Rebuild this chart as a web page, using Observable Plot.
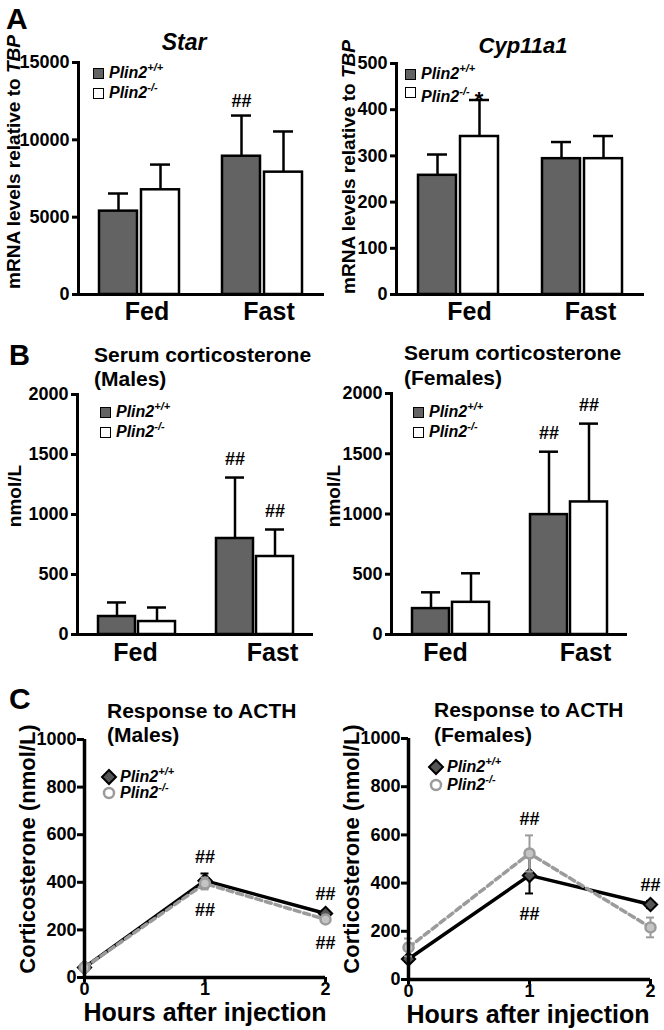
<!DOCTYPE html>
<html><head><meta charset="utf-8">
<script src="https://cdn.jsdelivr.net/npm/d3@7"></script>
<script src="https://cdn.jsdelivr.net/npm/@observablehq/plot@0.6"></script>
<style>
body{margin:0;background:#fff;}
#fig{position:relative;width:664px;height:1030px;overflow:hidden;font-family:"Liberation Sans",Arial,Helvetica,sans-serif;color:#000;background:#fff;}
.abs{position:absolute;white-space:nowrap;line-height:1;font-weight:bold;}
.wrap{position:absolute;}
.wrap svg{overflow:visible;background:transparent;}
.sq{position:absolute;width:11px;height:11px;border:1.5px solid #000;box-sizing:border-box;}
.sup{font-size:11px;position:relative;top:-7px;}
</style>
</head><body><div id="fig"></div>
<script>
// ---------- DATA ----------
const conditions = ["Fed", "Fast"];
const genotypes = ["Plin2+/+", "Plin2-/-"];

const starWT = [5390, 8940], starWTsd = [1140, 2630];
const starKO = [6770, 7910], starKOsd = [1630, 2630];
const cypWT = [258, 294], cypWTsd = [45, 36];
const cypKO = [342, 294], cypKOsd = [79, 49];
const malesWT = [150, 800], malesWTsd = [117, 508];
const malesKO = [108, 650], malesKOsd = [117, 225];
const femalesWT = [215, 995], femalesWTsd = [135, 522];
const femalesKO = [267, 1100], femalesKOsd = [241, 650];

const hours = [0, 1, 2];
const acthMalesWT = [42, 407, 269], acthMalesWTsd = [8, 30, 12];
const acthMalesKO = [42, 395, 244], acthMalesKOsd = [8, 25, 12];
const acthFemalesWT = [85, 432, 311], acthFemalesWTsd = [12, 75, 15];
const acthFemalesKO = [133, 523, 216], acthFemalesKOsd = [37, 75, 41];

const starTicks = [0, 5000, 10000, 15000];
const cypTicks = [0, 100, 200, 300, 400, 500];
const serumTicks = [0, 500, 1000, 1500, 2000];
const acthTicks = [0, 200, 400, 600, 800, 1000];
const hourTicks = [0, 1, 2];

const starHash = [["Fast", "Plin2+/+"]];
const cypHash = [];
const malesHash = [["Fast", "Plin2+/+"], ["Fast", "Plin2-/-"]];
const femalesHash = [["Fast", "Plin2+/+"], ["Fast", "Plin2-/-"]];
const acthMalesHash = [
  {hour: 1, series: "wt", side: "above"}, {hour: 1, series: "ko", side: "below"},
  {hour: 2, series: "wt", side: "above"}, {hour: 2, series: "ko", side: "below"}
];
const acthFemalesHash = [
  {hour: 1, series: "ko", side: "above"}, {hour: 1, series: "wt", side: "below"},
  {hour: 2, series: "wt", side: "above"}
];

// ---------- HELPERS ----------
const fig = document.getElementById("fig");
const FONT = '"Liberation Sans", Arial, Helvetica, sans-serif';
const GRAY = "#636363";
const KOGRAY = "#9b9b9b";

function addPlot(svg, left, top) {
  const w = document.createElement("div");
  w.className = "wrap";
  w.style.left = left + "px"; w.style.top = top + "px";
  w.appendChild(svg); fig.appendChild(w);
}
function addText(html, x, capTop, size, opts = {}) {
  const d = document.createElement("div");
  d.className = "abs"; d.innerHTML = html;
  d.style.fontSize = size + "px";
  d.style.left = x + "px";
  d.style.top = (capTop - 0.13 * size) + "px";
  if (opts.italic) d.style.fontStyle = "italic";
  if (opts.middle) d.style.transform = "translateX(-50%)";
  fig.appendChild(d);
}
function addVText(html, xc, yc, size) {
  const d = document.createElement("div");
  d.className = "abs"; d.innerHTML = html;
  d.style.fontSize = size + "px";
  d.style.left = xc + "px"; d.style.top = yc + "px";
  d.style.transform = "translate(-50%,-50%) rotate(-90deg)";
  fig.appendChild(d);
}
function legLabel(sup, extra = "") {
  return `<span style="font-style:italic">Plin2<span class="sup">${sup}</span></span>${extra}`;
}
function addRow(html, x, cy, size) {
  const d = document.createElement("div");
  d.className = "abs"; d.innerHTML = html;
  d.style.fontSize = size + "px";
  d.style.left = x + "px"; d.style.top = (cy - size / 2) + "px";
  fig.appendChild(d);
}
function addBarLegend(sqX, textX, cy1, cy2, extra2 = "") {
  const s1 = document.createElement("div");
  s1.className = "sq"; s1.style.background = GRAY;
  s1.style.left = sqX + "px"; s1.style.top = (cy1 - 5.5) + "px"; fig.appendChild(s1);
  const s2 = document.createElement("div");
  s2.className = "sq"; s2.style.background = "#fff";
  s2.style.left = sqX + "px"; s2.style.top = (cy2 - 5.5) + "px"; fig.appendChild(s2);
  addRow(legLabel(genotypes[0].slice(5)), textX, cy1, 16);
  addRow(legLabel(genotypes[1].slice(5), extra2), textX, cy2, 16);
}
function addLineLegend(cx, textX, cy1, cy2) {
  const s = document.createElementNS("http://www.w3.org/2000/svg", "svg");
  s.setAttribute("width", 20); s.setAttribute("height", 40);
  s.style.position = "absolute"; s.style.left = (cx - 10) + "px"; s.style.top = (cy1 - 10) + "px";
  s.innerHTML = `<polygon points="10,3 17,10 10,17 3,10" fill="#555" stroke="#000" stroke-width="2"/>
    <circle cx="10" cy="${10 + cy2 - cy1}" r="5" fill="#fff" stroke="${KOGRAY}" stroke-width="2.5"/>`;
  fig.appendChild(s);
  addRow(legLabel(genotypes[0].slice(5)), textX, cy1, 16);
  addRow(legLabel(genotypes[1].slice(5)), textX, cy2, 16);
}

// ---------- BAR PANELS ----------
function barPanel(c) {
  const rows = [];
  conditions.forEach((cond, i) => {
    rows.push({cond, geno: genotypes[0], mean: c.wt[i], top: c.wt[i] + c.wtsd[i]});
    rows.push({cond, geno: genotypes[1], mean: c.ko[i], top: c.ko[i] + c.kosd[i]});
  });
  const hashRows = c.hash.map(([cd, g]) => rows.find(r => r.cond === cd && r.geno === g));
  const lbl = (cond, dx) => Plot.text([cond], {
    fx: d => d, text: d => d, frameAnchor: "bottom", lineAnchor: "top",
    dy: c.labelDy, dx, fontSize: 25, fontWeight: "bold", fill: "black"
  });
  const svg = Plot.plot({
    width: c.w, height: c.h,
    marginLeft: c.ml, marginRight: c.mr, marginTop: c.mt, marginBottom: c.mb,
    style: {background: "transparent", overflow: "visible", fontFamily: FONT, fontSize: "18px", fontWeight: "bold", color: "black"},
    fx: {domain: conditions, paddingInner: 0, paddingOuter: 0, axis: null, label: null},
    x: {domain: genotypes, paddingInner: c.pi, paddingOuter: c.po, axis: null},
    y: {domain: [0, c.ticks[c.ticks.length - 1]]},
    marks: [
      Plot.ruleX(rows, {fx: "cond", x: "geno", y1: "mean", y2: "top", stroke: "black", strokeWidth: 2.5}),
      Plot.tickY(rows, {fx: "cond", x: "geno", y: "top", stroke: "black", strokeWidth: 2.5, insetLeft: 9, insetRight: 9}),
      Plot.barY(rows.filter(r => r.geno === genotypes[0]), {fx: "cond", x: "geno", y: "mean", fill: GRAY, stroke: "black", strokeWidth: 2.5}),
      Plot.barY(rows.filter(r => r.geno === genotypes[1]), {fx: "cond", x: "geno", y: "mean", fill: "white", stroke: "black", strokeWidth: 2.5}),
      Plot.text(hashRows, {fx: "cond", x: "geno", y: "top", text: () => "##", dy: c.hashDy, fontSize: 18, fontWeight: "bold", fill: "black"}),
      Plot.ruleY([0], {stroke: "black", strokeWidth: 3}),
      Plot.frame({anchor: "left", facetAnchor: "left", stroke: "black", strokeWidth: 3}),
      Plot.axisY({ticks: c.ticks, tickSize: 6, tickPadding: 3, fontSize: 18, fontWeight: "bold", stroke: "black", strokeWidth: 3, label: null, tickFormat: d => String(d)}),
      lbl("Fed", c.fedDx), lbl("Fast", c.fastDx)
    ]
  });
  addPlot(svg, c.left, c.top);
}

barPanel({wt: starWT, wtsd: starWTsd, ko: starKO, kosd: starKOsd, ticks: starTicks, hash: starHash,
  left: 0, top: 0, w: 332, h: 330, ml: 77, mr: 8, mt: 62, mb: 36, pi: 0.09, po: 0.49,
  labelDy: 8, fedDx: 7, fastDx: 6, hashDy: -14});
barPanel({wt: cypWT, wtsd: cypWTsd, ko: cypKO, kosd: cypKOsd, ticks: cypTicks, hash: cypHash,
  left: 332, top: 0, w: 332, h: 330, ml: 63, mr: 20, mt: 63, mb: 36, pi: 0.093, po: 0.49,
  labelDy: 8, fedDx: 11, fastDx: 8, hashDy: -14});
barPanel({wt: malesWT, wtsd: malesWTsd, ko: malesKO, kosd: malesKOsd, ticks: serumTicks, hash: malesHash,
  left: 0, top: 330, w: 332, h: 345, ml: 77, mr: 19, mt: 64, mb: 41, pi: 0.075, po: 0.51,
  labelDy: 9, fedDx: -1, fastDx: 18, hashDy: -18});
barPanel({wt: femalesWT, wtsd: femalesWTsd, ko: femalesKO, kosd: femalesKOsd, ticks: serumTicks, hash: femalesHash,
  left: 332, top: 330, w: 332, h: 345, ml: 59, mr: 37, mt: 63, mb: 41, pi: 0.075, po: 0.51,
  labelDy: 9, fedDx: -5, fastDx: 17, hashDy: -18});

// ---------- LINE PANELS ----------
function acthPanel(c) {
  const wt = hours.map((h, i) => ({h, v: c.wt[i], sd: c.wtsd[i]}));
  const ko = hours.map((h, i) => ({h, v: c.ko[i], sd: c.kosd[i]}));
  const pick = (s, h) => (s === "wt" ? wt : ko).find(d => d.h === h);
  const above = c.hash.filter(a => a.side === "above").map(a => { const d = pick(a.series, a.hour); return {h: a.hour, y: d.v + d.sd}; });
  const below = c.hash.filter(a => a.side === "below").map(a => { const d = pick(a.series, a.hour); return {h: a.hour, y: d.v - d.sd}; });
  const err = (data, stroke) => [
    Plot.ruleX(data, {x: "h", y1: d => d.v - d.sd, y2: d => d.v + d.sd, stroke, strokeWidth: 2}),
    Plot.ruleY(data, {x1: "h", x2: "h", y: d => d.v + d.sd, insetLeft: -4, insetRight: -4, stroke, strokeWidth: 2}),
    Plot.ruleY(data, {x1: "h", x2: "h", y: d => d.v - d.sd, insetLeft: -4, insetRight: -4, stroke, strokeWidth: 2})
  ];
  const svg = Plot.plot({
    width: c.w, height: c.h,
    marginLeft: c.ml, marginRight: c.mr, marginTop: c.mt, marginBottom: c.mb,
    style: {background: "transparent", overflow: "visible", fontFamily: FONT, fontSize: "18px", fontWeight: "bold", color: "black"},
    x: {domain: [0, 2]},
    y: {domain: [0, 1000]},
    marks: [
      ...err(wt, "black"),
      Plot.line(wt, {x: "h", y: "v", stroke: "black", strokeWidth: 3.5}),
      Plot.dot(wt, {x: "h", y: "v", symbol: "diamond2", r: 6, fill: "#555", stroke: "black", strokeWidth: 2}),
      ...err(ko, KOGRAY),
      Plot.line(ko, {x: "h", y: "v", stroke: KOGRAY, strokeWidth: 3.5, strokeDasharray: "6,4"}),
      Plot.dot(ko, {x: "h", y: "v", symbol: "circle", r: 5, fill: "#c4c4c4", stroke: KOGRAY, strokeWidth: 2.5}),
      Plot.text(above, {x: "h", y: "y", text: () => "##", dy: -16, fontSize: 18, fontWeight: "bold", fill: "black"}),
      Plot.text(below, {x: "h", y: "y", text: () => "##", dy: 21, fontSize: 18, fontWeight: "bold", fill: "black"}),
      Plot.ruleY([0], {stroke: "black", strokeWidth: 3.5}),
      Plot.ruleX([0], {stroke: "black", strokeWidth: 3.5}),
      Plot.axisY({ticks: acthTicks, tickSize: 7, tickPadding: 1, fontSize: 18, fontWeight: "bold", stroke: "black", strokeWidth: 3, label: null, tickFormat: d => String(d)}),
      Plot.axisX({ticks: hourTicks, tickSize: 5, tickPadding: 0, fontSize: 18, fontWeight: "bold", stroke: "black", strokeWidth: 3, label: null, tickFormat: d => String(d)})
    ]
  });
  addPlot(svg, c.left, c.top);
}

acthPanel({wt: acthMalesWT, wtsd: acthMalesWTsd, ko: acthMalesKO, kosd: acthMalesKOsd, hash: acthMalesHash,
  left: 0, top: 660, w: 332, h: 370, ml: 84, mr: 7, mt: 79, mb: 53});
acthPanel({wt: acthFemalesWT, wtsd: acthFemalesWTsd, ko: acthFemalesKO, kosd: acthFemalesKOsd, hash: acthFemalesHash,
  left: 332, top: 660, w: 332, h: 370, ml: 76, mr: 14, mt: 78, mb: 51});

// ---------- TEXT ----------
addText("A", 6, 8, 30);
addText("Star", 184, 34, 23, {italic: true, middle: true});
addText("Cyp11a1", 523, 38, 22, {italic: true, middle: true});
addVText('mRNA levels relative to <i>TBP</i>', 13.4, 162, 19);
addVText('mRNA levels relative to <i>TBP</i>', 348.4, 167, 19);
addBarLegend(93, 109, 73, 93);
addBarLegend(405, 421, 74, 92, '<span style="font-size:22px;position:relative;top:5px;margin-left:5px">*</span>');

addText("B", 9, 345, 29);
addText("Serum corticosterone", 94, 347, 21);
addText("(Males)", 94, 371, 21);
addText("Serum corticosterone", 404, 345, 21);
addText("(Females)", 404, 370, 21);
addVText("nmol/L", 14.4, 496, 19);
addVText("nmol/L", 333.4, 496, 19);
addBarLegend(100, 116, 412, 432);
addBarLegend(413, 429, 412, 432);

addText("C", 9, 688, 30);
addText("Response to ACTH", 107, 703, 21);
addText("(Males)", 107, 727, 21);
addText("Response to ACTH", 434, 702, 21);
addText("(Females)", 434, 727, 21);
addVText("Corticosterone (nmol/L)", 28.3, 849, 22);
addVText("Corticosterone (nmol/L)", 352.3, 849, 22);
addText("Hours after injection", 205, 1003, 25, {middle: true});
addText("Hours after injection", 528, 1005, 25, {middle: true});
addLineLegend(109, 120, 777, 793);
addLineLegend(436, 447, 767, 785);
</script></body></html>
